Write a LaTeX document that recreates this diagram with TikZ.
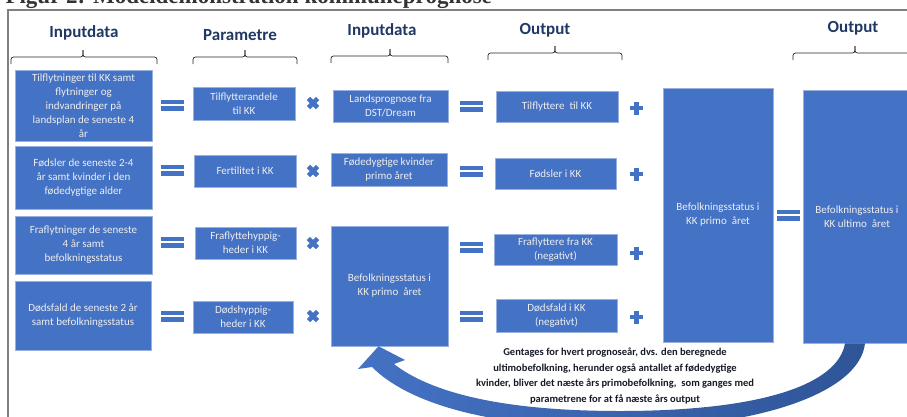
\documentclass[tikz,border=0pt]{standalone}
\usepackage{fontspec}
\setmainfont{Carlito}
\newfontfamily\titlefont{Liberation Serif}
\definecolor{boxblue}{RGB}{68,114,196}
\definecolor{darkblue}{RGB}{47,85,151}
\definecolor{headnavy}{RGB}{31,56,100}
\definecolor{boxtext}{RGB}{238,238,238}
\definecolor{framegray}{RGB}{128,128,128}
\definecolor{notetext}{RGB}{22,26,38}
\usetikzlibrary{arrows.meta,positioning}

\tikzset{
  box/.style={rectangle, fill=boxblue, draw=boxblue!55!white, line width=0.5pt,
    text=boxtext, align=center, inner sep=1pt, font=\fontsize{11}{14}\selectfont},
  hdr/.style={text=headnavy, font=\bfseries\fontsize{17}{19}\selectfont},
  brc/.style={line width=0.7pt, black!85, rounded corners=2.5pt},
  eqsign/.pic={\fill[boxblue] (-11.5,-5.5) rectangle (11.5,-0.9);
                \fill[boxblue] (-11.5,0.9) rectangle (11.5,5.5);},
  timessign/.pic={\draw[boxblue, line width=4.6pt] (-4.6,-4.6) -- (4.6,4.6) (-4.6,4.6) -- (4.6,-4.6);},
  plussign/.pic={\fill[boxblue] (-6.5,-2.3) rectangle (6.5,2.3);
                  \fill[boxblue] (-2.3,-6.5) rectangle (2.3,6.5);}
}
\newcommand{\hbrace}[4]{%
  \draw[brc] (#1,#4+7) -- (#1,#4) -- (#3,#4) -- (#3,#4-7);
  \draw[brc] (#2,#4+7) -- (#2,#4) -- (#3,#4) -- (#3,#4-7);}

\begin{document}
\begin{tikzpicture}[x=1pt, y=-1pt]
    \useasboundingbox (0,0) rectangle (907,416);
    \clip (0,0) rectangle (907,416);

    \node[anchor=base west, text=black!80, font=\titlefont\bfseries\fontsize{23}{27}\selectfont] (title) at (2,3.5) {Figur 2: Modeldemonstration kommuneprognose};
    \draw[framegray, line width=2pt] (8,430) -- (8,10) -- (920,10);

    \node[hdr] (h1) at (84,33) {Inputdata};
    \node[hdr] (h2) at (240,35) {Parametre};
    \node[hdr] (h3) at (382,31) {Inputdata};
    \node[hdr] (h4) at (545,30) {Output};
    \node[hdr] (h5) at (853,28) {Output};
    \hbrace{11}{157}{83}{57}
    \hbrace{193}{297}{245}{57}
    \hbrace{331}{448}{390}{56}
    \hbrace{488}{622}{555}{53}
    \hbrace{793}{960}{855}{53}

    \node[box, minimum width=137pt, minimum height=71pt] (in1) at (83.5,105.5) {Tilflytninger til KK samt\\flytninger og\\indvandringer på\\landsplan de seneste 4\\år};
    \node[box, minimum width=137pt, minimum height=63pt] (in2) at (83.5,177.5) {Fødsler de seneste 2-4\\år samt kvinder i den\\fødedygtige alder};
    \node[box, minimum width=137pt, minimum height=58pt] (in3) at (83.5,245) {Fraflytninger de seneste\\4 år samt\\befolkningsstatus};
    \node[box, minimum width=136pt, minimum height=69pt] (in4) at (83,315.5) {Dødsfald de seneste 2 år\\samt befolkningsstatus};

    \node[box, minimum width=102pt, minimum height=33pt] (par1) at (244,103.5) {Tilflytterandele\\til KK};
    \node[box, minimum width=102pt, minimum height=32pt] (par2) at (245,171) {Fertilitet i KK};
    \node[box, minimum width=101pt, minimum height=32pt] (par3) at (245.5,243) {Fraflyttehyppig-\\heder i KK};
    \node[box, minimum width=100pt, minimum height=32pt] (par4) at (243,317) {Dødshyppig-\\heder i KK};

    \node[box, minimum width=115pt, minimum height=32pt] (lands) at (390.5,106) {Landsprognose fra\\DST/Dream};
    \node[box, minimum width=116pt, minimum height=33pt] (kvind) at (389,169.5) {Fødedygtige kvinder\\primo året};
    \node[box, minimum width=117pt, minimum height=120pt] (prim) at (389.5,286) {Befolkningsstatus i\\KK primo~ året};

    \node[box, minimum width=122pt, minimum height=31pt] (out1) at (557,106.5) {Tilflyttere~ til KK};
    \node[box, minimum width=121pt, minimum height=31pt] (out2) at (555.5,173.5) {Fødsler i KK};
    \node[box, minimum width=123pt, minimum height=31pt] (out3) at (555.5,249.5) {Fraflyttere fra KK\\(negativt)};
    \node[box, minimum width=121pt, minimum height=33pt] (out4) at (556.5,315.5) {Dødsfald i KK\\(negativt)};

    \node[box, minimum width=110pt, minimum height=254pt] (primo) at (718,215) {Befolkningsstatus i\\KK primo~ året};
    \node[box, minimum width=108pt, minimum height=253pt] (ult) at (857,216.5) {Befolkningsstatus i\\KK ultimo~ året};

    \foreach \y in {105,170,242,316} \pic at (172.5,\y) {eqsign};
    \foreach \y in {103,171,243,316} \pic at (313,\y) {timessign};
    \foreach \y in {106,171,247,316} \pic at (471,\y) {eqsign};
    \foreach \y in {108,174,253,317} \pic at (636.5,\y) {plussign};
    \pic at (788.5,215) {eqsign};

    \shade[left color=boxblue, middle color=boxblue, right color=darkblue]
      ([xshift=-12pt]ult.south) -- ([xshift=8pt]ult.south)
      .. controls (860,392) and (760,428) .. (620,428)
      .. controls (480,428) and (405,400) .. (372,367)
      -- (358,369) -- ([xshift=-11pt]prim.south) -- (405,360) -- (394,364)
      .. controls (430,392) and (500,411) .. (620,411)
      .. controls (760,411) and (838,385) .. ([xshift=-12pt]ult.south) -- cycle;

    \node[align=center, text=notetext, font=\bfseries\fontsize{10.5}{15.5}\selectfont] (note) at (615,376) {Gentages for hvert prognoseår, dvs. den beregnede\\ultimobefolkning, herunder også antallet af fødedygtige\\kvinder, bliver det næste års primobefolkning,~ som ganges med\\parametrene for at få næste års output};
\end{tikzpicture}
\end{document}
